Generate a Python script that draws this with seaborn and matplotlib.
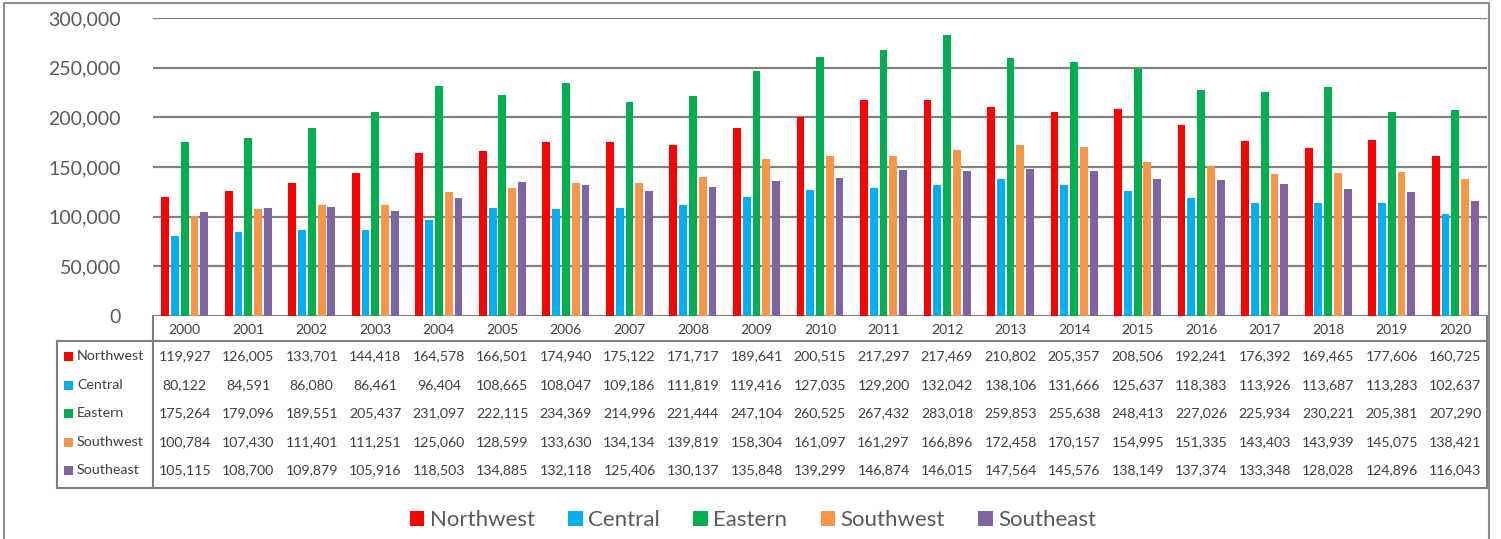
import numpy as np
import pandas as pd
import seaborn as sns
import matplotlib.pyplot as plt
from matplotlib.patches import Patch
from matplotlib.ticker import FuncFormatter
from matplotlib.transforms import blended_transform_factory

plt.rcParams['font.family'] = ['Lato', 'DejaVu Sans']

years = ['2000', '2001', '2002', '2003', '2004', '2005', '2006', '2007', '2008', '2009', '2010',
         '2011', '2012', '2013', '2014', '2015', '2016', '2017', '2018', '2019', '2020']
regions = ['Northwest', 'Central', 'Eastern', 'Southwest', 'Southeast']
colors = ['#FF0000', '#00B0F0', '#00B050', '#F79646', '#8064A2']

northwest = [119927, 126005, 133701, 144418, 164578, 166501, 174940, 175122, 171717, 189641, 200515,
             217297, 217469, 210802, 205357, 208506, 192241, 176392, 169465, 177606, 160725]
central = [80122, 84591, 86080, 86461, 96404, 108665, 108047, 109186, 111819, 119416, 127035,
           129200, 132042, 138106, 131666, 125637, 118383, 113926, 113687, 113283, 102637]
eastern = [175264, 179096, 189551, 205437, 231097, 222115, 234369, 214996, 221444, 247104, 260525,
           267432, 283018, 259853, 255638, 248413, 227026, 225934, 230221, 205381, 207290]
southwest = [100784, 107430, 111401, 111251, 125060, 128599, 133630, 134134, 139819, 158304, 161097,
             161297, 166896, 172458, 170157, 154995, 151335, 143403, 143939, 145075, 138421]
southeast = [105115, 108700, 109879, 105916, 118503, 134885, 132118, 125406, 130137, 135848, 139299,
             146874, 146015, 147564, 145576, 138149, 137374, 133348, 128028, 124896, 116043]

series = [northwest, central, eastern, southwest, southeast]
df = pd.DataFrame({
    'year': years * len(regions),
    'region': [r for r in regions for _ in years],
    'value': [v for s in series for v in s],
})

W, H = 1501, 539
fig = plt.figure(figsize=(W / 100, H / 100), dpi=100)
ax = fig.add_axes([153 / W, 1 - 316 / H, (1487 - 153) / W, (316 - 18) / H])

sns.barplot(data=df, x='year', y='value', hue='region', hue_order=regions,
            palette=colors, width=0.77, gap=0.2, saturation=1, linewidth=0,
            legend=False, ax=ax)

ax.set_xlim(-0.5, len(years) - 0.5)
ax.set_ylim(0, 300000)
ax.set_yticks(np.arange(0, 300001, 50000))
ax.yaxis.set_major_formatter(FuncFormatter(lambda v, p: f'{v:,.0f}'))
ax.tick_params(axis='y', length=0, pad=23, labelsize=14, labelcolor='#595959')
ax.tick_params(axis='x', length=0, pad=6, labelsize=10, labelcolor='#404040')
ax.grid(axis='y', color='#808080', lw=1.6)
ax.set_axisbelow(True)
ax.set_xlabel('')
ax.set_ylabel('')
for sp in ax.spines.values():
    sp.set_visible(False)

# overlay in pixel coordinates for the chart border and data table
ov = fig.add_axes([0, 0, 1, 1])
ov.set_xlim(0, W)
ov.set_ylim(H, 0)
ov.axis('off')
ov.patch.set_alpha(0)

border = '#8c8c8c'
ov.plot([4, 4, 1489, 1489], [H, 3, 3, H], color=border, lw=1.5)

tc = '#7f7f7f'
ov.plot([153, 153], [316, 488], color=tc, lw=1.5)
ov.plot([1487, 1487], [316, 488], color=tc, lw=1.5)
ov.plot([57, 1487], [341, 341], color=tc, lw=1.5)
ov.plot([57, 57], [341, 488], color=tc, lw=1.5)
ov.plot([57, 1487], [488, 488], color=tc, lw=1.5)

blend = blended_transform_factory(ax.transData, ov.transData)
row_y = [356, 385, 413, 442, 470]
for name, col, vals, y in zip(regions, colors, series, row_y):
    ov.add_patch(plt.Rectangle((64, y - 4.5), 9, 9, color=col, lw=0))
    ov.text(77, y, name, ha='left', va='center', fontsize=10.3, color='#404040')
    for i, v in enumerate(vals):
        ov.text(i, y, f'{v:,}', transform=blend, ha='center', va='center',
                fontsize=10.2, color='#404040')

handles = [Patch(facecolor=c, edgecolor='none') for c in colors]
leg = fig.legend(handles, regions, loc='center', bbox_to_anchor=(753 / W, 1 - 520 / H),
                 ncol=5, frameon=False, fontsize=16, handlelength=0.65, handleheight=0.65,
                 columnspacing=1.5, handletextpad=0.25)
for t in leg.get_texts():
    t.set_color('#595959')

fig.savefig('out.png', dpi=100)
